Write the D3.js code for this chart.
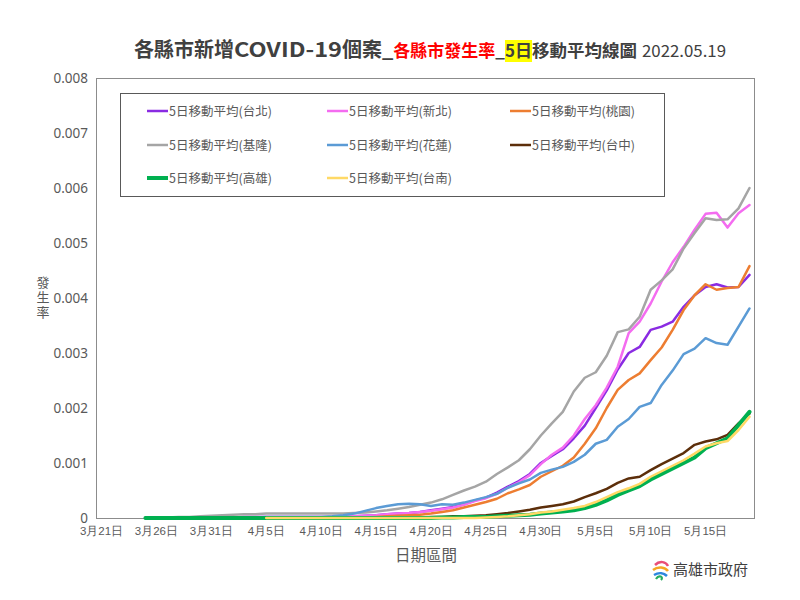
<!DOCTYPE html>
<html><head><meta charset="utf-8">
<script src="https://cdn.jsdelivr.net/npm/d3@7"></script>
<style>
html,body{margin:0;padding:0;background:#fff;}
svg{display:block;font-family:"Noto Sans CJK TC","Noto Sans",sans-serif;}
</style></head>
<body><svg id="c" width="800" height="600"></svg>
<script>
const dates = ["3月21日","3月22日","3月23日","3月24日","3月25日","3月26日","3月27日","3月28日","3月29日","3月30日","3月31日",
"4月1日","4月2日","4月3日","4月4日","4月5日","4月6日","4月7日","4月8日","4月9日","4月10日","4月11日","4月12日","4月13日","4月14日","4月15日","4月16日","4月17日","4月18日","4月19日","4月20日","4月21日","4月22日","4月23日","4月24日","4月25日","4月26日","4月27日","4月28日","4月29日","4月30日",
"5月1日","5月2日","5月3日","5月4日","5月5日","5月6日","5月7日","5月8日","5月9日","5月10日","5月11日","5月12日","5月13日","5月14日","5月15日","5月16日","5月17日","5月18日","5月19日"];
const tickLabels = ["3月21日","3月26日","3月31日","4月5日","4月10日","4月15日","4月20日","4月25日","4月30日","5月5日","5月10日","5月15日"];
const yTicks = [0,0.001,0.002,0.003,0.004,0.005,0.006,0.007,0.008];

const taipei = [null,null,null,null,
0,0,0,0.00001,0.00001,0.00001,0.00001,
0.00001,0.00001,0.00002,0.00002,0.00002,0.00002,0.00002,0.00002,0.00002,0.00002,0.00002,0.00003,0.00003,0.00004,0.00005,0.00007,0.00008,0.00009,0.00011,0.00014,0.00017,0.0002,0.00025,0.00032,0.00037,0.00046,0.00057,0.00067,0.0008,0.001,
0.00113,0.00125,0.00145,0.00168,0.002,0.00232,0.0027,0.003,0.00311,0.00342,0.00348,0.00357,0.00384,0.00405,0.0042,0.00425,0.00419,0.0042,0.00442];
const newTaipei = [null,null,null,null,
0,0,0,0.00001,0.00001,0.00001,0.00001,
0.00001,0.00001,0.00002,0.00002,0.00002,0.00002,0.00002,0.00002,0.00002,0.00002,0.00002,0.00003,0.00003,0.00004,0.00005,0.00007,0.00008,0.00009,0.00011,0.00013,0.00016,0.00019,0.00024,0.00031,0.00036,0.00044,0.00055,0.00065,0.00078,0.00098,
0.00115,0.00128,0.0015,0.0018,0.00205,0.00237,0.00275,0.00336,0.00357,0.0039,0.0043,0.00465,0.00493,0.00524,0.00553,0.00555,0.00528,0.00554,0.00569];
const taoyuan = [null,null,null,null,
0,0,0,0,0,0,0,
0,0,0,0,0,0.00001,0.00001,0.00001,0.00001,0.00001,0.00001,0.00001,0.00001,0.00001,0.00002,0.00003,0.00004,0.00005,0.00006,0.00008,0.00011,0.00014,0.00019,0.00024,0.00029,0.00035,0.00045,0.00052,0.0006,0.00075,
0.00085,0.00095,0.0011,0.00135,0.00163,0.002,0.00233,0.00251,0.00263,0.00287,0.0031,0.00342,0.00378,0.00405,0.00425,0.00415,0.00418,0.0042,0.00458];
const keelung = [null,null,null,null,
0,0.00001,0.00001,0.00002,0.00002,0.00003,0.00004,
0.00005,0.00006,0.00007,0.00007,0.00008,0.00008,0.00008,0.00008,0.00008,0.00008,0.00008,0.00008,0.00009,0.0001,0.00012,0.00014,0.00017,0.0002,0.00024,0.00028,0.00034,0.00042,0.0005,0.00057,0.00066,0.0008,0.00092,0.00105,0.00125,0.0015,
0.00172,0.00193,0.0023,0.00255,0.00265,0.00295,0.00338,0.00343,0.00366,0.00415,0.00432,0.00452,0.0049,0.00518,0.00545,0.00542,0.00543,0.00563,0.006];
const hualien = [null,null,null,null,
0,0,0,0,0.00001,0.00001,0.00001,
0.00001,0.00001,0.00001,0.00001,0.00002,0.00002,0.00002,0.00002,0.00002,0.00002,0.00003,0.00005,0.00008,0.00013,0.00018,0.00022,0.00025,0.00026,0.00025,0.00022,0.00025,0.00024,0.00028,0.00033,0.00038,0.00044,0.00055,0.00063,0.0007,0.00082,
0.00088,0.00093,0.00102,0.00115,0.00135,0.00142,0.00166,0.0018,0.00202,0.00209,0.00242,0.00268,0.00298,0.00308,0.00327,0.00318,0.00315,0.00348,0.00381];
const taichung = [null,null,null,null,
0,0,0,0,0,0,0,
0,0,0,0,0,0,0,0,0,0,0,0,0.00001,0.00001,0.00001,0.00001,0.00001,0.00001,0.00001,0.00002,0.00002,0.00003,0.00003,0.00004,0.00005,0.00007,0.00009,0.00012,0.00015,0.00019,
0.00022,0.00025,0.0003,0.00038,0.00045,0.00053,0.00064,0.00072,0.00075,0.00087,0.00098,0.00108,0.00118,0.00133,0.00139,0.00143,0.00151,0.00172,0.0019];
const kaohsiung = [null,null,null,null,
0,0,0,0,0,0,0,
0,0,0,0,0,0,0,0,0,0,0,0,0,0,0,0,0,0,0,0,0.00001,0.00001,0.00002,0.00002,0.00002,0.00003,0.00004,0.00005,0.00006,0.00008,
0.0001,0.00012,0.00014,0.00018,0.00024,0.00032,0.00042,0.0005,0.00058,0.0007,0.0008,0.0009,0.001,0.0011,0.00127,0.00136,0.00145,0.00169,0.00193];
const tainan = [null,null,null,null,
null,null,null,null,null,null,null,
null,null,null,null,0,0,0,0,0,0,0,0,0,0,0,0,0,0,0,0,0,0,0,0,0.00001,0.00002,0.00003,0.00005,0.00007,0.0001,
0.00012,0.00015,0.00018,0.00022,0.00029,0.00038,0.00047,0.00054,0.00062,0.00075,0.00085,0.00095,0.00105,0.00117,0.0013,0.00136,0.0014,0.0016,0.00184];

const seriesNames = ["5日移動平均(台北)","5日移動平均(新北)","5日移動平均(桃園)","5日移動平均(基隆)","5日移動平均(花蓮)","5日移動平均(台中)","5日移動平均(高雄)","5日移動平均(台南)"];
const seriesValues = [taipei,newTaipei,taoyuan,keelung,hualien,taichung,kaohsiung,tainan];
const seriesColors = ["#8a2be2","#f46cf0","#ed7d31","#a5a5a5","#5b9bd5","#5c2e0a","#00b050","#ffd966"];
const seriesWidths = [2.5,2.5,2.5,2.5,2.5,2.5,4,2.5];

const svg = d3.select("#c");
const L=96, R=755, T=78, B=518;

const x = d3.scaleBand().domain(dates).range([L,R]).padding(0);
const cx = d => x(d) + x.bandwidth()/2;
const y = d3.scaleLinear().domain([0,0.008]).range([B,T]);

// plot border
svg.append("rect").attr("x",L+0.5).attr("y",T+0.5).attr("width",R-L-1).attr("height",B-T)
  .attr("fill","none").attr("stroke","#8c8c8c").attr("stroke-width",1);

// y axis
const yAxis = d3.axisLeft(y).tickValues(yTicks).tickSize(0).tickPadding(8)
  .tickFormat(v => v===0 ? "0" : d3.format(".3f")(v));
const gy = svg.append("g").attr("transform",`translate(${L},0)`).call(yAxis);
gy.select(".domain").remove();
gy.selectAll("text").attr("fill","#595959").style("font-size","13.5px").style("font-family","'Noto Sans','Open Sans',sans-serif");

// x axis
const xAxis = d3.axisBottom(x).tickValues(tickLabels).tickSize(0).tickPadding(9);
const gx = svg.append("g").attr("transform",`translate(0,${B})`).call(xAxis);
gx.select(".domain").remove();
gx.selectAll("text").attr("fill","#595959").style("font-size","11.5px");

// axis titles
svg.append("text").attr("x",426).attr("y",561).attr("text-anchor","middle")
  .attr("fill","#595959").style("font-size","15.5px").text("日期區間");
svg.append("text").attr("x",43).attr("y",276)
  .style("writing-mode","vertical-rl").style("text-orientation","upright")
  .style("letter-spacing","2px")
  .attr("fill","#595959").style("font-size","13px").text("發生率");

// lines
const line = d3.line().defined(d=>d.v!==null).x(d=>cx(d.d)).y(d=>y(d.v));
seriesValues.forEach((vals,i)=>{
  const pts = dates.map((d,j)=>({d:d,v:vals[j]}));
  svg.append("path").datum(pts).attr("d",line).attr("fill","none")
    .attr("stroke",seriesColors[i]).attr("stroke-width",seriesWidths[i])
    .attr("stroke-linejoin","round").attr("stroke-linecap","round");
});

// legend
const lg = svg.append("g");
lg.append("rect").attr("x",120.5).attr("y",93.5).attr("width",544).attr("height",103)
  .attr("fill","#fff").attr("stroke","#595959").attr("stroke-width",1);
const colX = [147,327,510], rowY=[111,145,178];
seriesNames.forEach((n,i)=>{
  const c=i%3, r=Math.floor(i/3);
  lg.append("line").attr("x1",colX[c]).attr("x2",colX[c]+21).attr("y1",rowY[r]).attr("y2",rowY[r])
    .attr("stroke",seriesColors[i]).attr("stroke-width",seriesWidths[i]);
  lg.append("text").attr("x",colX[c]+22).attr("y",rowY[r]+4.5).attr("fill","#595959")
    .style("font-size","12.5px").text(n);
});

// title
const parts = [
  {t:"各縣市新增", c:"#404040", w:"bold", s:20},
  {t:"COVID-19", c:"#404040", w:"bold", s:20, len:108},
  {t:"個案_", c:"#404040", w:"bold", s:20},
  {t:"各縣市發生率", c:"#ff0000", w:"bold", s:17},
  {t:"_", c:"#404040", w:"bold", s:17},
  {t:"5日", c:"#404040", w:"bold", s:17, hl:true},
  {t:"移動平均線圖", c:"#404040", w:"bold", s:17.5},
  {t:"2022.05.19", c:"#404040", w:"normal", s:16, len:84, gap:5}
];
let tx = 134; const ty = 57;
const tg = svg.append("g");
parts.forEach(p=>{
  if(p.gap) tx += p.gap;
  const hlRect = p.hl ? tg.append("rect").attr("fill","#ffff00") : null;
  const t = tg.append("text").attr("x",tx).attr("y",ty).attr("fill",p.c)
    .style("font-weight",p.w).style("font-size",p.s+"px").text(p.t);
  if(p.len){ t.attr("textLength",p.len).attr("lengthAdjust","spacingAndGlyphs"); }
  const w = p.len ? p.len : t.node().getComputedTextLength();
  if(hlRect){ hlRect.attr("x",tx).attr("y",ty-17).attr("width",w).attr("height",22); }
  tx += w;
});

// logo
const logo = svg.append("g").attr("transform","translate(652,560)");
logo.append("path").attr("d","M3,5 C8,0 14,2 16,6").attr("stroke","#e94e77").attr("stroke-width",2.5).attr("fill","none");
logo.append("path").attr("d","M1,10 C6,6 13,7 16,11").attr("stroke","#f5a623").attr("stroke-width",2.5).attr("fill","none");
logo.append("path").attr("d","M2,15 C7,12 12,13 15,16").attr("stroke","#2e86de").attr("stroke-width",2.5).attr("fill","none");
logo.append("path").attr("d","M4,19 C7,14 12,17 9,20").attr("stroke","#27ae60").attr("stroke-width",2.2).attr("fill","none");
svg.append("text").attr("x",673).attr("y",575).attr("fill","#404040").style("font-size","15px").text("高雄市政府");
</script></body></html>
